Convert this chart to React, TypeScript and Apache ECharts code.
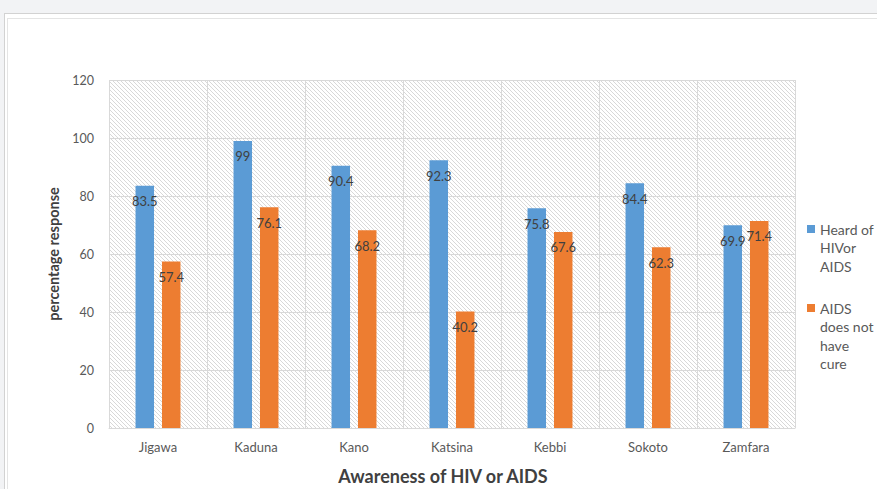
import React, { useEffect, useRef } from "react";
import * as echarts from "echarts";

const categories = ["Jigawa", "Kaduna", "Kano", "Katsina", "Kebbi", "Sokoto", "Zamfara"];
const heardOf = [83.5, 99, 90.4, 92.3, 75.8, 84.4, 69.9];
const noCure = [57.4, 76.1, 68.2, 40.2, 67.6, 62.3, 71.4];
const seriesNames = ["Heard of\nHIVor\nAIDS", "AIDS\ndoes not\nhave\ncure"];
const yTicks = { min: 0, max: 120, interval: 20 };

const FONT = "Lato, 'Open Sans', sans-serif";
const LH = 18.5;

const hatchSvg =
  "data:image/svg+xml;utf8," +
  encodeURIComponent(
    "<svg xmlns='http://www.w3.org/2000/svg' width='4' height='4'>" +
      "<path d='M-1,-1 L5,5 M-1,3 L1,5 M3,-1 L5,1' stroke='#d4d4d4' stroke-width='0.9'/></svg>"
  );

const legendBase = {
  orient: "vertical",
  left: 807,
  padding: 0,
  itemWidth: 8,
  itemHeight: 8,
  icon: "rect",
  textStyle: { fontSize: 14, color: "#595959", lineHeight: LH, fontFamily: FONT },
};

export default function App() {
  const ref = useRef<HTMLDivElement>(null);
  useEffect(() => {
    if (!ref.current) return;
    const chart = echarts.init(ref.current, null, { renderer: "svg" });
    chart.setOption({
      animation: false,
      backgroundColor: "transparent",
      textStyle: { fontFamily: FONT },
      grid: {
        left: 109,
        right: 82,
        top: 80,
        bottom: 61,
        outerBoundsMode: "none",
        containLabel: false,
        show: true,
        borderWidth: 0,
        backgroundColor: {
          image: hatchSvg,
          repeat: "repeat",
          imageWidth: 4,
          imageHeight: 4,
        },
      },
      legend: [
        {
          ...legendBase,
          data: [seriesNames[0]],
          top: 229 - 2.5 * LH,
          formatter: (n: string) => "\n\n" + n,
        },
        {
          ...legendBase,
          data: [seriesNames[1]],
          top: 308 - 3.5 * LH,
          formatter: (n: string) => "\n\n\n" + n,
        },
      ],
      xAxis: {
        type: "category",
        data: categories,
        name: "Awareness of HIV or AIDS",
        nameLocation: "middle",
        nameGap: 39,
        nameTextStyle: {
          fontSize: 18,
          fontWeight: "bold",
          color: "#404040",
          fontFamily: FONT,
          padding: [0, 18, 0, 0],
        },
        axisLine: { lineStyle: { color: "#d9d9d9" } },
        axisTick: { show: false },
        axisLabel: { fontSize: 13, color: "#595959", margin: 12 },
        splitLine: { show: true, lineStyle: { color: "#d9d9d9" } },
      },
      yAxis: {
        type: "value",
        min: yTicks.min,
        max: yTicks.max,
        interval: yTicks.interval,
        name: "percentage response",
        nameLocation: "middle",
        nameGap: 45,
        nameTextStyle: { fontSize: 14.5, fontWeight: "bold", color: "#404040", fontFamily: FONT },
        axisLine: { show: false },
        axisTick: { show: false },
        axisLabel: { fontSize: 12.5, color: "#595959", margin: 15 },
        splitLine: { lineStyle: { color: "#d9d9d9" } },
      },
      series: [
        {
          name: seriesNames[0],
          type: "bar",
          data: heardOf,
          barWidth: 18.5,
          barGap: "43%",
          itemStyle: { color: "#5b9bd5" },
          label: {
            show: true,
            position: "insideTop",
            distance: 9,
            fontSize: 13,
            color: "#404040",
          },
        },
        {
          name: seriesNames[1],
          type: "bar",
          data: noCure,
          barWidth: 18.5,
          barGap: "43%",
          itemStyle: { color: "#ed7d31" },
          label: {
            show: true,
            position: "insideTop",
            distance: 9,
            fontSize: 13,
            color: "#404040",
          },
        },
      ],
    });
    return () => chart.dispose();
  }, []);

  return (
    <div
      style={{
        position: "fixed",
        left: 0,
        top: 0,
        width: 877,
        height: 489,
        background: "#f2f3f5",
        overflow: "hidden",
      }}
    >
      <div
        style={{
          position: "absolute",
          left: 4,
          top: 13,
          width: 900,
          height: 500,
          background: "#ffffff",
          border: "1px solid #d2d2d2",
        }}
      />
      <div
        style={{
          position: "absolute",
          left: 7,
          top: 18,
          width: 900,
          height: 500,
          border: "1px solid #e4e4e4",
        }}
      />
      <div ref={ref} style={{ position: "absolute", left: 0, top: 0, width: 877, height: 489 }} />
    </div>
  );
}
